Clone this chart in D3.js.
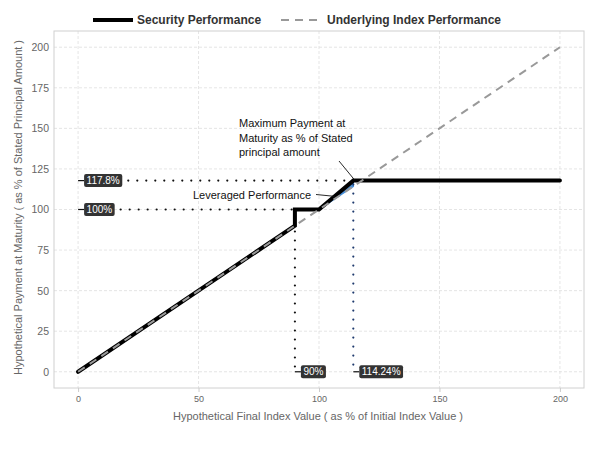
<!DOCTYPE html>
<html><head><meta charset="utf-8">
<script src="https://cdn.jsdelivr.net/npm/d3@7"></script>
<style>body{margin:0;background:#fff;}svg{display:block;font-family:"Liberation Sans",Arial,sans-serif;}</style>
</head><body><svg id="c" width="600" height="450"></svg>
<script>
const xTicks = [0, 50, 100, 150, 200];
const yTicks = [0, 25, 50, 75, 100, 125, 150, 175, 200];
const indexX = [0, 200];
const indexY = [0, 200];
const securityX = [0, 90, 90, 100, 114.24, 200];
const securityY = [0, 90, 100, 100, 117.8, 117.8];
const leverX = [100, 114.24];
const leverSec = [100, 117.8];
const leverIdx = [100, 114.24];
const hLabels = [{v: 117.8, t: "117.8%", end: 114.24}, {v: 100, t: "100%", end: 90}];
const vLabels = [{v: 90, t: "90%", top: 100, color: "#111"}, {v: 114.24, t: "114.24%", top: 117.8, color: "#1f3b6e"}];
const legendItems = ["Security Performance", "Underlying Index Performance"];

const svg = d3.select("#c");
const L = 54, R = 584, T = 31, B = 388;
const x = d3.scaleLinear().domain([-10, 210]).range([L, R]);
const y = d3.scaleLinear().domain([-10, 210]).range([B, T]);

// grid
const g = svg.append("g");
g.selectAll(".vg").data(xTicks).join("line")
  .attr("x1", d => x(d)).attr("x2", d => x(d)).attr("y1", T).attr("y2", B)
  .attr("stroke", "#dedede").attr("stroke-dasharray", "3,2").attr("stroke-width", 0.8);
g.selectAll(".hg").data(yTicks).join("line")
  .attr("y1", d => y(d)).attr("y2", d => y(d)).attr("x1", L).attr("x2", R)
  .attr("stroke", "#dedede").attr("stroke-dasharray", "3,2").attr("stroke-width", 0.8);
svg.append("rect").attr("x", L).attr("y", T).attr("width", R - L).attr("height", B - T)
  .attr("fill", "none").attr("stroke", "#d0d0d0").attr("stroke-width", 1);

// axes
const xa = svg.append("g").attr("transform", `translate(0,${B})`)
  .call(d3.axisBottom(x).tickValues(xTicks).tickSize(4).tickPadding(4));
xa.select(".domain").remove();
xa.selectAll("line").attr("stroke", "#ccc");
xa.selectAll("text").attr("fill", "#666").attr("font-size", 9).attr("font-family", "Liberation Sans, Arial, sans-serif");
const ya = svg.append("g").attr("transform", `translate(${L},0)`)
  .call(d3.axisLeft(y).tickValues(yTicks).tickSize(0).tickPadding(5));
ya.select(".domain").remove();
ya.selectAll("text").attr("fill", "#666").attr("font-size", 10.5).attr("font-family", "Liberation Sans, Arial, sans-serif");

svg.append("text").attr("x", (L + R) / 2 - 1).attr("y", 420).attr("text-anchor", "middle")
  .attr("fill", "#666").attr("font-size", 11).text("Hypothetical Final Index Value ( as % of Initial Index Value )");
svg.append("text").attr("transform", `translate(22,${(T + B) / 2 - 2}) rotate(-90)`).attr("text-anchor", "middle")
  .attr("fill", "#666").attr("font-size", 11).text("Hypothetical Payment at Maturity ( as % of Stated Principal Amount )");

// dotted guide lines (drawn after boxes are measured)
const hStarts = [];

// leveraged area
const area = d3.area().x((d, i) => x(leverX[i])).y0((d, i) => y(leverIdx[i])).y1((d, i) => y(leverSec[i]));
svg.append("path").datum(leverX).attr("d", area).attr("fill", "#4a90d9").attr("stroke", "#4a90d9").attr("stroke-width", 1.5);

const guides = svg.append("g");

// security line
const line = d3.line().x(d => x(d[0])).y(d => y(d[1]));
svg.append("path").datum(securityX.map((v, i) => [v, securityY[i]])).attr("d", line)
  .attr("fill", "none").attr("stroke", "#000").attr("stroke-width", 4).attr("stroke-linejoin", "miter").attr("stroke-linecap", "round");
// index line
svg.append("path").datum(indexX.map((v, i) => [v, indexY[i]])).attr("d", line)
  .attr("fill", "none").attr("stroke", "#999").attr("stroke-width", 2).attr("stroke-dasharray", "8,6");

// labels
function box(cx, cy, text, tickFrom) {
  svg.append("line").attr("x1", tickFrom).attr("x2", cx).attr("y1", cy).attr("y2", cy).attr("stroke", "#111").attr("stroke-width", 1.2);
  const grp = svg.append("g");
  const t = grp.append("text").attr("x", cx + 2.5).attr("y", cy + 3.7).attr("fill", "#fff").attr("font-size", 10).text(text);
  const w = t.node().getComputedTextLength();
  grp.insert("rect", "text").attr("x", cx).attr("y", cy - 6.5).attr("width", w + 5).attr("height", 13).attr("rx", 2)
    .attr("fill", "#333");
  return cx + w + 5;
}
hLabels.forEach(h => {
  const end = box(x(0) + 6, y(h.v), h.t, x(0));
  guides.append("line").attr("x1", end + 6).attr("x2", x(h.end)).attr("y1", y(h.v)).attr("y2", y(h.v))
    .attr("stroke", "#111").attr("stroke-width", 2.2).attr("stroke-linecap", "round").attr("stroke-dasharray", "0,9");
});
vLabels.forEach(v => {
  box(x(v.v) + 6, y(0), v.t, x(v.v));
  guides.append("line").attr("x1", x(v.v)).attr("x2", x(v.v)).attr("y1", y(v.top) + 4).attr("y2", y(0) - 2)
    .attr("stroke", v.color).attr("stroke-width", 2.2).attr("stroke-linecap", "round").attr("stroke-dasharray", "0,9");
});

// annotations
const ann = ["Maximum Payment at", "Maturity as % of Stated", "principal amount"];
ann.forEach((s, i) => svg.append("text").attr("x", 239).attr("y", 127 + i * 14.5).attr("font-size", 11).attr("fill", "#111").text(s));
svg.append("line").attr("x1", 339).attr("y1", 161).attr("x2", x(114.24) + 1).attr("y2", y(117.8) - 1).attr("stroke", "#111").attr("stroke-width", 0.9);
svg.append("text").attr("x", 193).attr("y", 199).attr("font-size", 11).attr("fill", "#111").text("Leveraged Performance");
svg.append("line").attr("x1", 316).attr("y1", 194.5).attr("x2", x(106.5)).attr("y2", y(108.1)).attr("stroke", "#111").attr("stroke-width", 0.9);

// legend
const lg = svg.append("g").attr("font-weight", "bold").attr("font-size", 12).attr("fill", "#333");
lg.append("line").attr("x1", 93).attr("x2", 133).attr("y1", 20).attr("y2", 20).attr("stroke", "#000").attr("stroke-width", 4);
lg.append("text").attr("x", 137).attr("y", 24).text(legendItems[0]);
lg.append("line").attr("x1", 281).attr("x2", 319).attr("y1", 20).attr("y2", 20).attr("stroke", "#999").attr("stroke-width", 2).attr("stroke-dasharray", "8,6");
lg.append("text").attr("x", 327).attr("y", 24).text(legendItems[1]);
</script></body></html>
